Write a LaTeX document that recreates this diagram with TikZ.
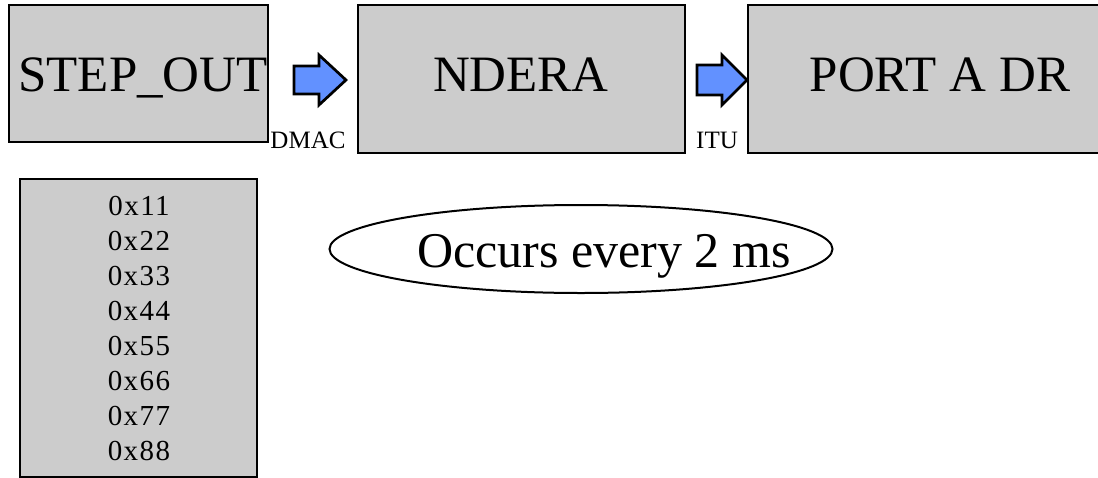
\documentclass[tikz,border=0pt]{standalone}
\usepackage{fontspec}
\setmainfont{Liberation Serif}
\newfontfamily\valfont[LetterSpace=5]{Liberation Serif}
\usetikzlibrary{shapes.geometric}
\definecolor{boxgray}{RGB}{204,204,204}
\definecolor{flowblue}{RGB}{98,145,255}
\tikzset{
  regbox/.style={draw=black, fill=boxgray, line width=2.7pt},
  flowarrow/.style={draw=black, fill=flowblue, line width=2.7pt, line join=miter},
  bigtext/.style={font=\fontsize{51}{51}\selectfont, anchor=base, inner sep=0pt},
  smalltext/.style={font=\fontsize{25}{25}\selectfont, anchor=base, inner sep=0pt},
  valtext/.style={font=\valfont\fontsize{29}{29}\selectfont, anchor=base, inner sep=0pt},
}
\begin{document}
\begin{tikzpicture}[x=1pt, y=-1pt]
  \useasboundingbox (0,0) rectangle (1098,477);
  \clip (0,0) rectangle (1098,477);

  % register boxes
  \draw[regbox] (9,5) rectangle (268,142);
  \node[bigtext] (stepout) at (143,91) {STEP\_OUT};

  \draw[regbox] (358,5) rectangle (685,153);
  \node[bigtext] (ndera) at (521,91) {NDERA};

  \draw[regbox] (748,5) rectangle (1134,153);
  \node[bigtext] (porta) at (940,91) {PORT A DR};

  % transfer arrows with their labels
  \coordinate (a1) at (294,80);
  \draw[flowarrow] (a1) ++(0,-14) -- ++(25,0) -- ++(0,-11) -- (346,80)
        -- (319,105) -- ++(0,-11) -- ++(-25,0) -- cycle;
  \node[smalltext] (dmac) at (308,148) {DMAC};

  \coordinate (a2) at (697,80);
  \draw[flowarrow] (a2) ++(0,-15) -- ++(25,0) -- ++(0,-10) -- (747,80)
        -- (722,105) -- ++(0,-10) -- ++(-25,0) -- cycle;
  \node[smalltext] (itu) at (717,148) {ITU};

  % buffer contents
  \draw[regbox] (20,179) rectangle (257,477);
  \foreach \v [count=\i from 0] in {11,22,33,44,55,66,77,88}
    \node[valtext] (val\v) at (139,215+35*\i) {0x\v};

  % timing note
  \node[draw=black, line width=2pt, ellipse, minimum width=503pt, minimum height=88pt] (note) at (581,249) {};
  \node[font=\fontsize{50}{50}\selectfont, anchor=base, inner sep=0pt] (notetext) at (604,267) {Occurs every 2 ms};
\end{tikzpicture}
\end{document}
